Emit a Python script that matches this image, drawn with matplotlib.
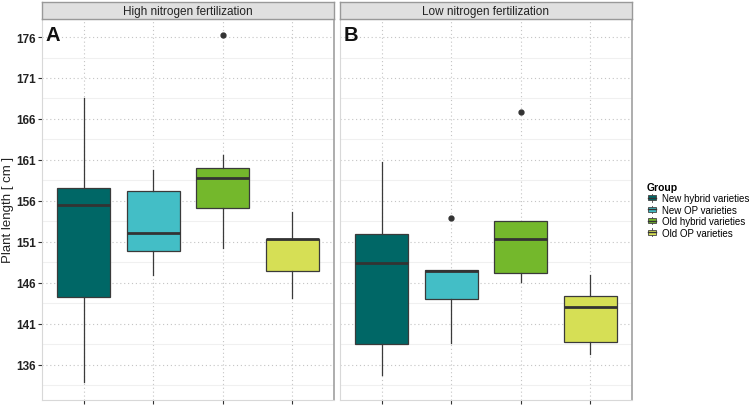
import matplotlib
matplotlib.use("Agg")
import matplotlib.pyplot as plt
from matplotlib.patches import Patch, Rectangle
from matplotlib.lines import Line2D
from matplotlib.legend_handler import HandlerBase
from matplotlib.ticker import FixedLocator

plt.rcParams["font.family"] = ["Liberation Sans", "DejaVu Sans"]

groups = ["New hybrid varieties", "New OP varieties", "Old hybrid varieties", "Old OP varieties"]
colors = ["#006766", "#43BEC6", "#74B82C", "#D6DF55"]
panels = ["High nitrogen fertilization", "Low nitrogen fertilization"]
panel_tags = ["A", "B"]

# five-number summaries per panel: whislo, q1, med, q3, whishi
high_whislo = [133.9, 146.9, 150.2, 144.2]
high_q1 = [144.3, 149.9, 155.15, 147.5]
high_med = [155.5, 152.1, 158.8, 151.3]
high_q3 = [157.55, 157.2, 160.0, 151.4]
high_whishi = [168.6, 159.8, 161.65, 154.7]
high_fliers = [[], [], [176.2], []]

low_whislo = [134.7, 138.65, 146.1, 137.3]
low_q1 = [138.5, 144.0, 147.2, 138.8]
low_med = [148.4, 147.45, 151.4, 143.1]
low_q3 = [152.0, 147.6, 153.5, 144.4]
low_whishi = [160.8, 147.6, 153.5, 147.0]
low_fliers = [[], [153.9], [166.9], []]

yticks = [136, 141, 146, 151, 156, 161, 166, 171, 176]

W, H = 752, 406
fig = plt.figure(figsize=(W / 100, H / 100), dpi=100)

def px(x0, y0, x1, y1):
    return [x0 / W, 1 - y1 / H, (x1 - x0) / W, (y1 - y0) / H]

panel_data = [
    (high_whislo, high_q1, high_med, high_q3, high_whishi, high_fliers),
    (low_whislo, low_q1, low_med, low_q3, low_whishi, low_fliers),
]
panel_x = [(42, 334), (340, 632)]

for i, (x0, x1) in enumerate(panel_x):
    ax = fig.add_axes(px(x0, 20, x1, 401))
    wl, q1, md, q3, wh, fl = panel_data[i]
    stats = []
    for k in range(4):
        stats.append(dict(whislo=wl[k], q1=q1[k], med=md[k], q3=q3[k], whishi=wh[k], fliers=fl[k]))
    bp = ax.bxp(stats, positions=[1, 2, 3, 4], widths=0.76, patch_artist=True, showcaps=False,
                boxprops=dict(edgecolor="#3a3a3a", linewidth=0.9),
                whiskerprops=dict(color="#3a3a3a", linewidth=0.9),
                medianprops=dict(color="#333333", linewidth=2.0),
                flierprops=dict(marker="o", markerfacecolor="#333333", markeredgecolor="#333333", markersize=3.5))
    for patch, c in zip(bp["boxes"], colors):
        patch.set_facecolor(c)
    for art in bp["boxes"] + bp["whiskers"] + bp["medians"] + bp["fliers"]:
        art.set_zorder(3)
    ax.set_xlim(0.4, 4.6)
    ax.set_ylim(131.7, 178.2)
    ax.yaxis.set_major_locator(FixedLocator(yticks))
    ax.yaxis.set_minor_locator(FixedLocator([v + 2.5 for v in [131] + yticks[:-1]]))
    ax.set_xticks([1, 2, 3, 4])
    ax.set_xticklabels([])
    ax.grid(which="major", axis="both", linestyle=(0, (1, 2.5)), color="#C4C4C4", linewidth=0.8, zorder=0)
    ax.grid(which="minor", axis="y", linestyle="-", color="#F0F0F0", linewidth=0.8, zorder=0)
    ax.set_axisbelow(True)
    ax.tick_params(axis="x", length=3, width=0.8, color="#333333")
    ax.tick_params(axis="y", which="minor", length=0)
    if i == 0:
        ax.tick_params(axis="y", length=3, width=0.8, color="#333333", labelsize=8.5, pad=1.5)
        for t in ax.get_yticklabels():
            t.set_fontweight("bold")
            t.set_color("#222222")
    else:
        ax.tick_params(axis="y", length=0, labelleft=False)
    for sp in ax.spines.values():
        sp.set_color("#D8D8D8")
        sp.set_linewidth(0.8)
    ax.spines["right"].set_color("#A0A0A0")
    ax.spines["right"].set_linewidth(1.2)
    ax.text(0.012, 0.985, panel_tags[i], transform=ax.transAxes, fontsize=14.5, fontweight="bold",
            va="top", ha="left", color="#111111")

    sax = fig.add_axes(px(x0, 3, x1, 20))
    sax.set_facecolor("#E0E0E0")
    sax.set_xticks([])
    sax.set_yticks([])
    for sp in sax.spines.values():
        sp.set_color("#999999")
        sp.set_linewidth(1.0)
    sax.text(0.5, 0.45, panels[i], transform=sax.transAxes, ha="center", va="center",
             fontsize=8.5, color="#222222")

fig.text(8 / W, 1 - 210 / H, "Plant length [ cm ]", rotation=90, ha="center", va="center",
         fontsize=9.5, color="#222222")


class BoxKey(HandlerBase):
    def create_artists(self, legend, orig_handle, xdescent, ydescent, width, height, fontsize, trans):
        fc = orig_handle.get_facecolor()
        cx = width / 2 - xdescent
        r = Rectangle((-xdescent + width * 0.1, -ydescent + height * 0.15), width * 0.8, height * 0.7,
                      facecolor=fc, edgecolor="#444444", linewidth=0.6, transform=trans)
        m = Line2D([-xdescent + width * 0.1, -xdescent + width * 0.9], [-ydescent + height / 2] * 2,
                   color="#333333", linewidth=1.0, transform=trans)
        w1 = Line2D([cx, cx], [-ydescent, -ydescent + height * 0.15], color="#444444", linewidth=0.6, transform=trans)
        w2 = Line2D([cx, cx], [-ydescent + height * 0.85, -ydescent + height], color="#444444", linewidth=0.6, transform=trans)
        return [r, m, w1, w2]


handles = [Patch(facecolor=c, edgecolor="#333333", linewidth=0.7, label=g) for g, c in zip(groups, colors)]
leg = fig.legend(handles=handles, title="Group", loc="upper left", bbox_to_anchor=(638 / W, 1 - 174 / H),
                 frameon=False, fontsize=7, title_fontsize=7.5, handlelength=1.0, handleheight=0.8,
                 handletextpad=0.6, labelspacing=0.15, alignment="left",
                 handler_map={Patch: BoxKey()})
leg.get_title().set_fontweight("bold")

fig.savefig("out.png", dpi=100)
